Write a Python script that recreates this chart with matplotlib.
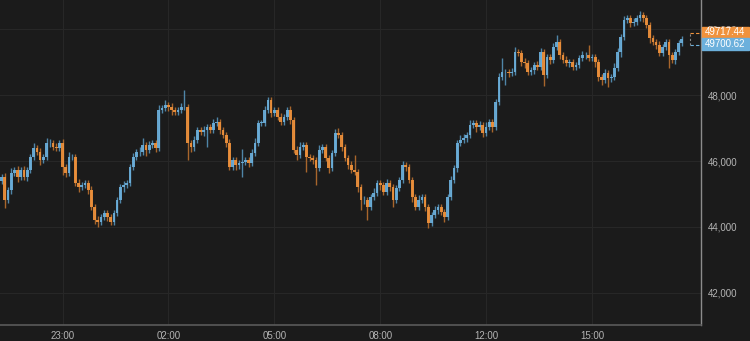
import numpy as np
import matplotlib
matplotlib.use("Agg")
import matplotlib.pyplot as plt
from matplotlib.patches import Rectangle

# ---------------------------------------------------------------------------
# Data — 5-minute style candles, closes
# ---------------------------------------------------------------------------
FIRST_OPEN = 45400

CLOSES = [
    # 21:10 - 23:40
    45515, 44818, 45121, 45636, 45727, 45515, 45727, 45515, 45727, 46121,
    46394, 46273, 46030, 46121, 46545, 46545, 46424, 46394, 46545, 45818,
    45636, 46121, 46121, 45333, 45212, 45273, 45333, 45121, 44606, 44212,
    44152, 44303, 44424, 44303, 44152,
    # 23:40 - 03:00
    44424, 44818, 45212, 45273, 45333, 45818, 46121, 46273, 46273, 46485,
    46333, 46485, 46545, 46394, 47545, 47606, 47697, 47636, 47545, 47485,
    47545, 47636, 47636, 46545, 46424, 46636, 46939, 46879, 46939, 47030,
    46939, 47152, 47182, 46939, 46788, 46545,
    # 03:00 - 06:30
    45818, 46030, 45879, 45939, 45970, 46030, 45939, 46242, 46545, 47152,
    47152, 47545, 47848, 47455, 47545, 47333, 47182, 47333, 47545, 47242,
    46333, 46182, 46424, 46485, 46121, 46091, 46030, 45788, 46333, 46424,
    46091, 45788, 46242, 46848, 46788, 46424,
    # 06:30 - 10:00
    46091, 45879, 45727, 45667, 45212, 44818, 44818, 44606, 44909, 45030,
    45333, 45273, 45061, 45333, 45212, 44818, 45182, 45424, 45879, 45818,
    45424, 44909, 44606, 44818, 44909, 44606, 44121, 44364, 44515, 44606,
    44455, 44303, 44909, 45424, 45788, 46545, 46636, 46697,
    # 10:00 - 13:30
    46788, 47091, 47152, 47030, 47091, 46848, 47030, 47182, 47030, 47788,
    48545, 48697, 48697, 48667, 48697, 49303, 49273, 49000, 48970, 48697,
    48758, 48909, 48848, 49303, 48606, 49152, 49061, 49455, 49606, 49212,
    49061, 48970, 49000, 48848,
    # 13:30 - 17:30
    48909, 49121, 49212, 49212, 49121, 49152, 49000, 48545, 48455, 48667,
    48515, 48545, 48818, 49303, 49758, 50273, 50333, 50182, 50212, 50333,
    50424, 50333, 50121, 49727, 49606, 49515, 49273, 49455, 49606, 49212,
    49061, 49303, 49576, 49700,
]

WICK_UP = [
    90, 120, 80, 150, 100, 120, 90, 130, 80, 100, 150, 90, 110, 80, 160, 120,
    100, 130, 90, 110, 80, 150, 100, 80, 120, 90, 100, 80, 110, 90, 120, 100,
    80, 90, 100,
    80, 100, 90, 120, 80, 100, 130, 90, 150, 200, 90, 120, 100, 80, 150, 100,
    160, 90, 120, 80, 100, 110, 520, 90, 80, 130, 100, 90, 120, 80, 100, 130,
    150, 90, 100, 80,
    120, 90, 100, 80, 400, 100, 90, 120, 150, 100, 90, 120, 100, 80, 90, 100,
    120, 90, 100, 110, 90, 130, 150, 100, 90, 80, 100, 90, 150, 100, 90, 80,
    100, 120, 150, 90,
    100, 90, 120, 455, 100, 90, 120, 80, 100, 150, 90, 100, 80, 120, 100, 90,
    100, 80, 120, 100, 90, 100, 80, 150, 100, 90, 80, 100, 120, 90, 100, 80,
    100, 120, 90, 100, 150, 120,
    100, 150, 90, 100, 120, 80, 150, 100, 90, 100, 120, 424, 90, 100, 120, 150,
    100, 90, 120, 80, 100, 90, 110, 120, 100, 90, 80, 120, 212, 100, 90, 120,
    100, 90,
    100, 90, 120, 100, 303, 90, 100, 80, 100, 120, 90, 100, 150, 120, 100, 130,
    100, 90, 120, 100, 120, 90, 100, 80, 90, 100, 120, 100, 90, 80, 100, 90,
    100, 80,
]

WICK_DN = [
    100, 250, 90, 120, 80, 150, 100, 90, 120, 80, 100, 90, 150, 80, 100, 120,
    90, 80, 100, 250, 120, 90, 80, 100, 150, 90, 80, 120, 100, 130, 150, 100,
    80, 120, 90,
    90, 80, 100, 150, 80, 90, 100, 80, 120, 100, 180, 90, 100, 120, 100, 80,
    90, 120, 150, 100, 90, 80, 100, 515, 150, 120, 90, 100, 110, 500, 100, 90,
    80, 120, 100, 120,
    100, 90, 150, 120, 430, 100, 120, 90, 80, 100, 90, 80, 100, 120, 90, 80,
    100, 90, 80, 120, 100, 150, 90, 80, 450, 100, 120, 515, 90, 100, 80, 150,
    90, 100, 80, 120,
    90, 120, 100, 80, 150, 300, 120, 400, 100, 90, 80, 150, 100, 90, 120, 200,
    100, 80, 90, 120, 100, 150, 90, 100, 80, 120, 150, 100, 90, 120, 100, 150,
    100, 80, 90, 120, 100, 90,
    120, 100, 90, 150, 100, 120, 90, 100, 150, 100, 90, 100, 394, 120, 100, 90,
    100, 120, 150, 100, 90, 120, 100, 80, 333, 100, 120, 90, 100, 110, 90, 100,
    120, 100,
    90, 100, 80, 120, 100, 90, 150, 120, 150, 100, 273, 120, 90, 100, 150, 90,
    100, 120, 90, 100, 80, 120, 100, 150, 90, 120, 100, 90, 100, 394, 100, 120,
    90, 80,
]

TICK_IDX = [19, 52, 85, 118, 151, 184]
TICK_LABELS = ["23:00", "02:00", "05:00", "08:00", "12:00", "15:00"]
Y_TICKS = [42000, 44000, 46000, 48000, 50000]

ASK_LAST = 49717.44
BID_LAST = 49700.62

# ---------------------------------------------------------------------------
# Styling
# ---------------------------------------------------------------------------
BG = "#1b1b1b"
GRID = "#272727"
UP = "#6cb0dc"
DOWN = "#f0923c"
UP_WICK = "#4f86a8"
DOWN_WICK = "#a8662c"
TEXT = "#b4b4b4"

plt.rcParams["font.family"] = ["Liberation Sans", "DejaVu Sans"]

closes = np.array(CLOSES, dtype=float)
opens = np.concatenate([[FIRST_OPEN], closes[:-1]])
highs = np.maximum(opens, closes) + np.array(WICK_UP)
lows = np.minimum(opens, closes) - np.array(WICK_DN)
idx = np.arange(len(closes))
rising = closes >= opens

fig = plt.figure(figsize=(7.5, 3.41), dpi=100, facecolor=BG)
ax = fig.add_axes([0.0, 0.047, 0.9347, 0.953])
ax.set_facecolor(BG)

# wicks
ax.vlines(idx[rising], lows[rising], highs[rising], color=UP_WICK,
          linewidth=1.0, zorder=2)
ax.vlines(idx[~rising], lows[~rising], highs[~rising], color=DOWN_WICK,
          linewidth=1.0, zorder=2)

# bodies
body_lo = np.minimum(opens, closes)
body_h = np.maximum(np.abs(closes - opens), 15)
ax.bar(idx[rising], body_h[rising], bottom=body_lo[rising], width=0.85,
       color=UP, alpha=0.92, linewidth=0, zorder=3)
ax.bar(idx[~rising], body_h[~rising], bottom=body_lo[~rising], width=0.85,
       color=DOWN, alpha=0.92, linewidth=0, zorder=3)

# small dashed bracket next to the last candle
n = len(closes)
ax.plot([n + 1.5, n + 5.5], [49880, 49880], color=DOWN, lw=0.8,
        ls=(0, (3, 2)), zorder=4)
ax.plot([n + 1.5, n + 5.5], [49520, 49520], color=UP, lw=0.8,
        ls=(0, (3, 2)), zorder=4)
ax.plot([n + 1.5, n + 1.5], [49520, 49880], color="#888888", lw=0.8,
        ls=(0, (2, 2)), zorder=4)

ax.set_xlim(-0.5, 218)
ax.set_ylim(41030, 50880)

ax.set_xticks(TICK_IDX)
ax.set_xticklabels(TICK_LABELS)
ax.set_yticks(Y_TICKS)
ax.set_yticklabels([f"{v:,}" for v in Y_TICKS])
ax.yaxis.tick_right()
ax.tick_params(axis="both", length=0, colors=TEXT, labelsize=7)
ax.tick_params(axis="y", pad=5)
ax.tick_params(axis="x", pad=4)
for lab in ax.get_yticklabels():
    lab.set_horizontalalignment("left")

ax.grid(True, color=GRID, linewidth=0.8)
ax.set_axisbelow(True)

for side in ("top", "left"):
    ax.spines[side].set_visible(False)
ax.spines["right"].set_color("#8c8c8c")
ax.spines["right"].set_linewidth(1.0)
ax.spines["bottom"].set_color("#5a5a5a")
ax.spines["bottom"].set_linewidth(1.2)

# last price labels (drawn over the 50,000 tick, as in the source chart)
fig.add_artist(Rectangle((0.936, 0.8886), 0.0627, 0.0323,
                         transform=fig.transFigure, color=DOWN, zorder=5))
fig.add_artist(Rectangle((0.936, 0.8534), 0.0627, 0.0352,
                         transform=fig.transFigure, color=UP, zorder=5))
fig.text(0.9673, 0.9047, f"{ASK_LAST:.2f}", color="white", fontsize=7,
         ha="center", va="center", zorder=6)
fig.text(0.9673, 0.8710, f"{BID_LAST:.2f}", color="white", fontsize=7,
         ha="center", va="center", zorder=6)

fig.savefig("out.png", dpi=100, facecolor=BG)
